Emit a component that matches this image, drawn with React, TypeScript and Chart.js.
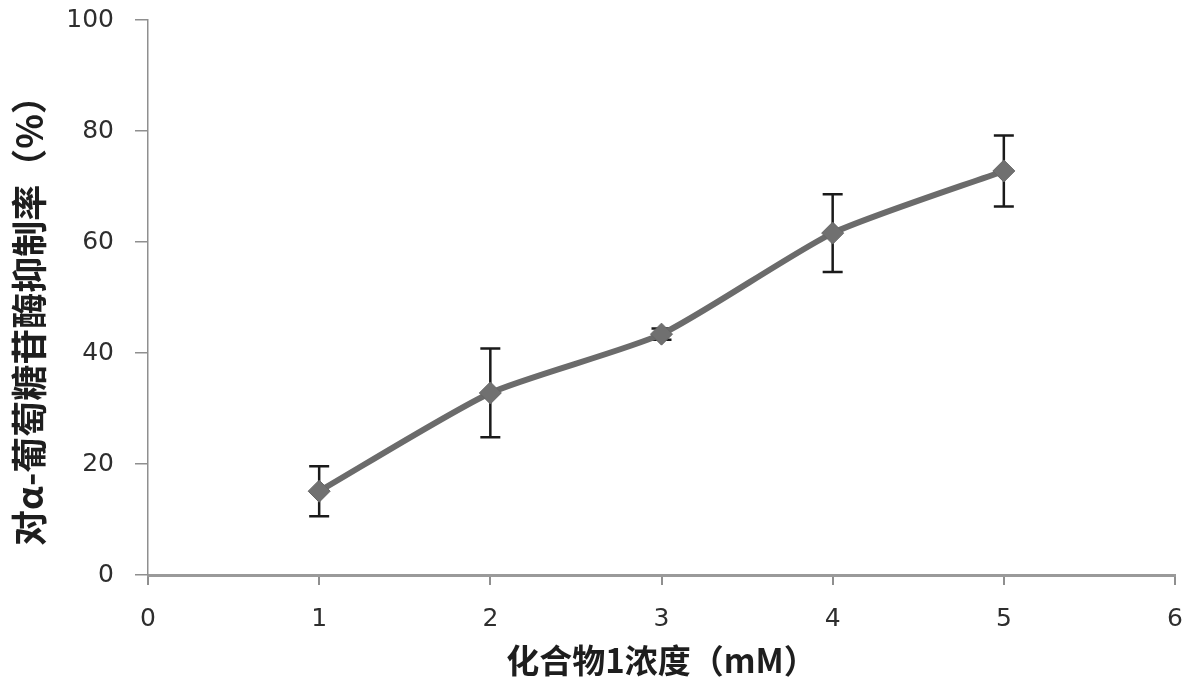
import React, { useEffect, useRef } from "react";
import { Chart, registerables } from "chart.js";

Chart.register(...registerables);

const concentrations = [1, 2, 3, 4, 5];
const inhibition = [15.1, 32.8, 43.4, 61.6, 72.8];
const errors = [4.5, 8.0, 1.0, 7.0, 6.4];
const xTitle = "化合物1浓度（mM）";
const yTitle = "对α-葡萄糖苷酶抑制率（%）";

const errorBarPlugin = {
  id: "errorBars",
  beforeDatasetsDraw(chart: any) {
    const ctx = chart.ctx;
    const xs = chart.scales.x;
    const ys = chart.scales.y;
    ctx.save();
    ctx.strokeStyle = "#1a1a1a";
    ctx.lineWidth = 2.5;
    concentrations.forEach((c, i) => {
      const px = xs.getPixelForValue(c);
      const top = ys.getPixelForValue(inhibition[i] + errors[i]);
      const bot = ys.getPixelForValue(inhibition[i] - errors[i]);
      const cap = 10;
      ctx.beginPath();
      ctx.moveTo(px, top);
      ctx.lineTo(px, bot);
      ctx.moveTo(px - cap, top);
      ctx.lineTo(px + cap, top);
      ctx.moveTo(px - cap, bot);
      ctx.lineTo(px + cap, bot);
      ctx.stroke();
    });
    ctx.restore();
  },
};

const yTitlePlugin = {
  id: "yTitle",
  afterDraw(chart: any) {
    const ctx = chart.ctx;
    ctx.save();
    ctx.translate(29, 312);
    ctx.rotate(-Math.PI / 2);
    ctx.fillStyle = "#1e1e1e";
    ctx.font = "bold 36px 'Noto Sans CJK SC'";
    ctx.textAlign = "center";
    ctx.textBaseline = "middle";
    ctx.fillText(yTitle, 0, 0);
    ctx.restore();
  },
};

export default function App() {
  const ref = useRef<HTMLCanvasElement>(null);
  useEffect(() => {
    if (!ref.current) return;
    const chart = new Chart(ref.current, {
      type: "line",
      data: {
        datasets: [
          {
            data: concentrations.map((c, i) => ({ x: c, y: inhibition[i] })),
            borderColor: "#6b6b6b",
            backgroundColor: "#6b6b6b",
            borderWidth: 6,
            pointStyle: "rectRot",
            pointRadius: 11,
            pointBorderWidth: 1,
            pointBorderColor: "#666666",
            pointBackgroundColor: "#707070",
            tension: 0.2,
          },
        ],
      },
      options: {
        animation: false,
        responsive: false,
        layout: { padding: { left: 0, right: 25, top: 20, bottom: 0 } },
        plugins: {
          legend: { display: false },
          tooltip: { enabled: false },
        },
        scales: {
          x: {
            type: "linear",
            min: 0,
            max: 6,
            ticks: {
              stepSize: 1,
              color: "#2e2e2e",
              font: { family: "DejaVu Sans", size: 25 },
              padding: 19,
            },
            grid: {
              drawOnChartArea: false,
              drawTicks: true,
              tickLength: 10,
              color: "#8f8f8f",
              lineWidth: 2,
            },
            border: { color: "#9a9a9a", width: 3 },
            title: {
              display: true,
              text: xTitle,
              color: "#1e1e1e",
              font: { family: "Noto Sans CJK SC", size: 33, weight: "bold" },
              padding: { top: 4, bottom: 19 },
            },
            afterFit(scale: any) {
              scale.height = 124;
              scale.paddingLeft = 0;
              scale.paddingRight = 0;
            },
          },
          y: {
            type: "linear",
            min: 0,
            max: 100,
            ticks: {
              stepSize: 20,
              color: "#2e2e2e",
              font: { family: "DejaVu Sans", size: 25 },
              padding: 21,
            },
            grid: {
              drawOnChartArea: false,
              drawTicks: true,
              tickLength: 13,
              color: "#8f8f8f",
              lineWidth: 1.5,
            },
            border: { color: "#8f8f8f", width: 1.5 },
            afterFit(scale: any) {
              scale.width = 148;
              scale.paddingTop = 0;
              scale.paddingBottom = 0;
            },
          },
        },
      },
      plugins: [errorBarPlugin, yTitlePlugin],
    });
    return () => chart.destroy();
  }, []);
  return (
    <div style={{ position: "absolute", left: 0, top: 0, width: 1200, height: 699, background: "#fff" }}>
      <canvas ref={ref} width={1200} height={699} />
    </div>
  );
}
